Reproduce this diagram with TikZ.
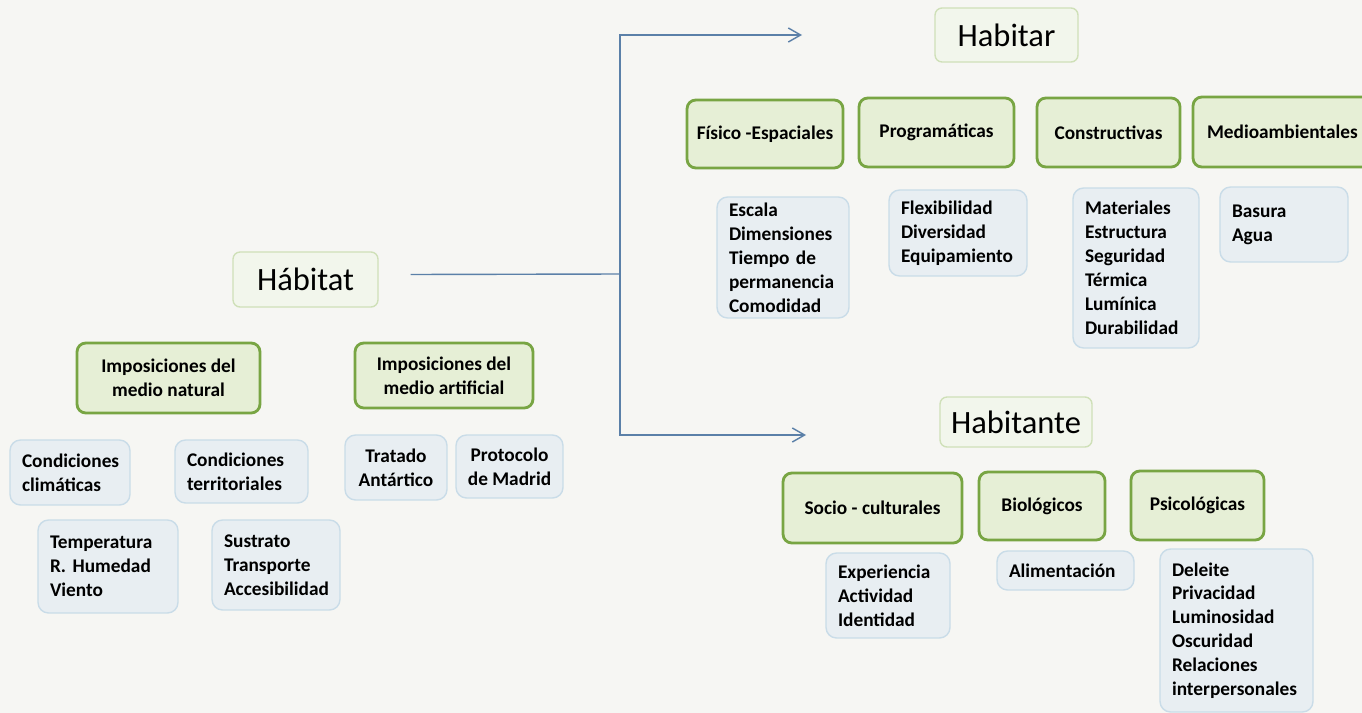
\documentclass[tikz,border=0pt]{standalone}
\usepackage{fontspec}
\setmainfont{Carlito}
\usepackage{tikz}
\usetikzlibrary{arrows.meta}

\definecolor{bgcol}{HTML}{F6F6F3}
\definecolor{titlefill}{HTML}{F2F6EC}
\definecolor{titleborder}{HTML}{CFE0B8}
\definecolor{catfill}{HTML}{E6EFD6}
\definecolor{catborder}{HTML}{78A543}
\definecolor{itemfill}{HTML}{E8EEF2}
\definecolor{itemborder}{HTML}{C9DCE8}
\definecolor{linkblue}{HTML}{5B80A8}

\begin{document}
\begin{tikzpicture}[x=0.02cm,y=-0.02cm,
    titlebox/.style={draw=titleborder,line width=0.8pt,fill=titlefill,rounded corners=4pt,
      font=\fontsize{18.5}{22}\selectfont,inner sep=0pt},
    catbox/.style={draw=catborder,line width=1.6pt,fill=catfill,rounded corners=5pt,
      font=\fontsize{11}{13.6}\selectfont\bfseries,align=center,inner sep=0pt},
    itembox/.style={draw=itemborder,line width=0.8pt,fill=itemfill,rounded corners=6pt,
      font=\fontsize{11}{13.6}\selectfont\bfseries,align=left,inner xsep=0.24cm,inner ysep=0pt},
    link/.style={draw=linkblue,line width=0.8pt}]
    \useasboundingbox (0,0) rectangle (1362,713);
    \clip (0,0) rectangle (1362,713);
    \fill[bgcol] (0,0) rectangle (1362,713);

    % titulos
    \node[titlebox,minimum width=2.9cm,minimum height=1.1cm] (hab) at (305.5,279.5) {Hábitat};
    \node[titlebox,minimum width=2.86cm,minimum height=1.08cm] (habr) at (1006.5,35) {Habitar};
    \node[titlebox,minimum width=3.04cm,minimum height=1.0cm] (habte) at (1016,422) {Habitante};

    % conectores
    \coordinate (forkmid) at (620,274);
    \coordinate (forktop) at (620,35);
    \coordinate (forkbot) at (620,435);
    \coordinate (toptip) at (802,35);
    \coordinate (bottip) at (806,435);
    \draw[link] ([xshift=0.64cm,yshift=0.1cm]hab.east) -- (forkmid);
    \draw[link,{Straight Barb[length=7pt,width=8pt]}-{Straight Barb[length=7pt,width=8pt]}]
      (bottip) -- (forkbot) -- (forktop) -- (toptip);

    % Habitat
    \begin{scope}
      \node[catbox,minimum width=3.66cm,minimum height=1.4cm] (nat) at (168.5,378) {Imposiciones del\\medio natural};
      \node[catbox,minimum width=3.56cm,minimum height=1.3cm] (art) at (444,375.5) {Imposiciones del\\medio artificial};
      \node[itembox,text width=1.92cm,minimum height=1.3cm] (clim) at (70,472.5) {Condiciones\\climáticas};
      \node[itembox,text width=2.18cm,minimum height=1.26cm] (terr) at (241.5,471.5) {Condiciones\\territoriales};
      \node[itembox,align=center,inner xsep=0pt,minimum width=2.04cm,minimum height=1.3cm] (trat) at (396,467.5) {Tratado\\Antártico};
      \node[itembox,align=center,inner xsep=0pt,minimum width=2.14cm,minimum height=1.26cm] (prot) at (509.5,466.5) {Protocolo\\de Madrid};
      \node[itembox,text width=2.32cm,minimum height=1.86cm] (temp) at (108,566.5) {Temperatura\\R.\ Humedad\\Viento};
      \node[itembox,text width=2.08cm,minimum height=1.8cm] (sus) at (276,565) {Sustrato\\Transporte\\Accesibilidad};
    \end{scope}

    % Habitar
    \begin{scope}
      \node[catbox,minimum width=3.12cm,minimum height=1.36cm] (fis) at (765,134) {Físico -Espaciales};
      \node[catbox,minimum width=3.1cm,minimum height=1.38cm] (prog) at (936.5,132.5) {Programáticas};
      \node[catbox,minimum width=2.86cm,minimum height=1.38cm] (cons) at (1108.5,132.5) {Constructivas};
      \node[catbox,align=left,text width=3.6cm,inner xsep=0.28cm,minimum height=1.4cm] (med) at (1297,132) {Medioambientales};
      \node[itembox,text width=2.16cm,minimum height=2.42cm] (fisl) at (783,257.5) {Escala\\Dimensiones\\Tiempo de\\permanencia\\Comodidad};
      \node[itembox,text width=2.28cm,minimum height=1.72cm] (progl) at (958,233) {Flexibilidad\\Diversidad\\Equipamiento};
      \node[itembox,text width=2.04cm,minimum height=3.2cm] (consl) at (1136,268) {Materiales\\Estructura\\Seguridad\\Térmica\\Lumínica\\Durabilidad};
      \node[itembox,text width=2.08cm,minimum height=1.5cm] (medl) at (1284,224.5) {Basura\\Agua};
    \end{scope}

    % Habitante
    \begin{scope}
      \node[catbox,minimum width=3.58cm,minimum height=1.4cm] (soc) at (872.5,508) {Socio - culturales};
      \node[catbox,minimum width=2.52cm,minimum height=1.36cm] (bio) at (1042,506) {Biológicos};
      \node[catbox,minimum width=2.66cm,minimum height=1.38cm] (psi) at (1197.5,505.5) {Psicológicas};
      \node[itembox,text width=2.0cm,minimum height=1.7cm] (expl) at (888,595.5) {Experiencia\\Actividad\\Identidad};
      \node[itembox,text width=2.26cm,minimum height=0.78cm] (alil) at (1065.5,570.5) {Alimentación};
      \node[itembox,text width=2.58cm,minimum height=3.26cm] (psil) at (1236.5,630.5) {Deleite\\Privacidad\\Luminosidad\\Oscuridad\\Relaciones\\interpersonales};
    \end{scope}
\end{tikzpicture}
\end{document}
